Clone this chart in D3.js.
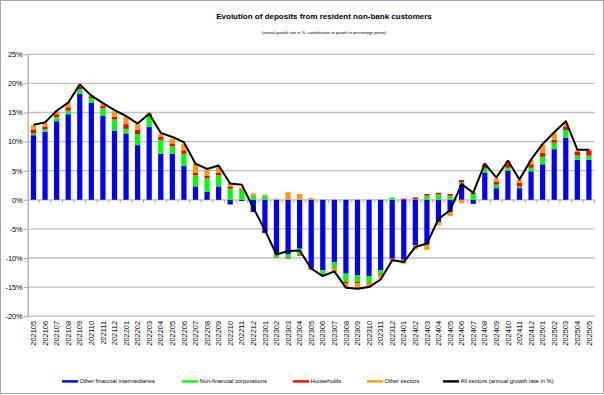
<!DOCTYPE html>
<html>
<head>
<meta charset="utf-8">
<script src="https://cdn.jsdelivr.net/npm/d3@7"></script>
<style>
  html, body { margin: 0; padding: 0; background: #fff; }
  svg { display: block; font-family: "Liberation Sans", Arial, sans-serif; }
</style>
</head>
<body>
<svg id="chart"></svg>
<script>
const months = [
  "202105", "202106", "202107", "202108", "202109", "202110", "202111", "202112",
  "202201", "202202", "202203", "202204", "202205", "202206", "202207", "202208",
  "202209", "202210", "202211", "202212", "202301", "202302", "202303", "202304",
  "202305", "202306", "202307", "202308", "202309", "202310", "202311", "202312",
  "202401", "202402", "202403", "202404", "202405", "202406", "202407", "202408",
  "202409", "202410", "202411", "202412", "202501", "202502", "202503", "202504",
  "202505"
];

// contributions to growth, percentage points
const otherFinancial = [
  11.1, 11.7, 13.5, 14.7, 18.2, 16.7, 14.4, 11.9, 11.4, 9.4, 12.5, 7.9, 7.9, 5.8,
  2.3, 1.4, 2.3, -0.8, -0.2, -2.1, -5.7, -9.3, -9.4, -8.4, -11.8, -12.1, -10.7,
  -12.7, -13.0, -13.1, -12.1, -10.1, -10.3, -7.8, -7.7, -3.8, -2.1, 2.6, -0.7,
  4.7, 2.0, 5.0, 2.0, 4.9, 6.1, 8.7, 10.7, 6.9, 6.9
];
const nonFinancialCorps = [
  0.3, 0.4, 0.7, 0.6, 0.8, 0.8, 1.3, 1.9, 0.8, 1.9, 1.9, 2.4, 1.3, 2.1,
  1.9, 2.3, 1.9, 1.9, 1.6, 0.6, 0.6, -0.5, -0.6, -1.0, 0.0, -0.7, -0.9,
  -1.4, -1.1, -1.1, -0.7, 0.4, 0.0, 0.1, 0.7, 0.9, 0.7, 0.4, 1.0,
  0.7, 0.6, 0.5, 0.3, 0.6, 1.3, 1.1, 1.3, 0.7, 0.7
];
const households = [
  0.6, 0.5, 0.5, 0.6, 0.4, 0.3, 0.4, 0.5, 0.8, 0.7, 0.4, 0.5, 0.5, 0.6,
  0.4, 0.4, 0.4, 0.3, 0.2, 0.1, 0.1, -0.1, -0.1, -0.2, -0.2, -0.2, -0.1,
  -0.2, -0.2, -0.2, -0.2, -0.1, 0.2, 0.3, 0.3, 0.3, 0.3, 0.4, 0.2,
  0.6, 0.5, 0.7, 0.6, 0.6, 0.7, 0.5, 0.6, 0.7, 0.9
];
const otherSectors = [
  0.8, 0.6, 0.5, 0.8, 0.3, 0.2, 0.4, 0.9, 1.3, 1.0, 0.2, 0.5, 0.8, 1.1,
  1.6, 1.1, 1.0, 0.7, 0.3, 0.4, 0.2, 0.2, 1.3, 1.0, 0.3, -0.1, -0.7,
  -0.7, -0.9, -0.5, -0.5, -0.3, -0.7, -0.7, -0.9, -0.6, -0.7, -0.6, 0.0,
  0.2, 0.5, 0.5, 0.5, 0.7, 1.4, 1.3, 0.7, 0.2, 0.2
];
// annual growth rate, %
const allSectors = [
  12.9, 13.3, 15.3, 16.7, 19.8, 17.9, 16.6, 15.4, 14.4, 13.1, 14.8, 11.5, 10.8, 9.9,
  6.2, 5.3, 5.9, 2.8, 2.6, -1.4, -5.2, -9.4, -8.8, -8.7, -11.8, -13.1, -12.3,
  -15.1, -15.3, -15.0, -13.7, -10.4, -10.7, -8.1, -7.5, -3.3, -1.8, 2.7, 1.2,
  6.2, 3.8, 6.7, 3.5, 6.9, 9.6, 11.6, 13.5, 8.6, 8.6
];
const yTicks = [25, 20, 15, 10, 5, 0, -5, -10, -15, -20];

const seriesKeys = ["ofi", "nfc", "hh", "other"];
const seriesNames = ["Other financial intermediaries", "Non-financial corporations", "Households", "Other sectors"];
const seriesColors = ["#0000ff", "#00ff00", "#ff0000", "#ff9900"];

const data = months.map((m, i) => ({
  month: m,
  ofi: otherFinancial[i],
  nfc: nonFinancialCorps[i],
  hh: households[i],
  other: otherSectors[i],
  total: allSectors[i]
}));

const W = 604, H = 395;
const plot = { left: 27.7, right: 594.7, top: 54.3, bottom: 316.2 };

const svg = d3.select("#chart").attr("width", W).attr("height", H);

svg.append("rect")
  .attr("x", 0.5).attr("y", 0.5)
  .attr("width", W - 1).attr("height", H - 2)
  .attr("fill", "#fff")
  .attr("stroke", "#a6a6a6");

svg.append("text")
  .attr("x", 324).attr("y", 19)
  .attr("text-anchor", "middle")
  .style("font-size", "8px")
  .style("font-weight", "bold")
  .text("Evolution of deposits from resident non-bank customers");

svg.append("text")
  .attr("x", 324).attr("y", 34)
  .attr("text-anchor", "middle")
  .style("font-size", "4px")
  .text("(annual growth rate in %, contributions to growth in percentage points)");

const x = d3.scaleBand()
  .domain(months)
  .range([plot.left, plot.right])
  .paddingInner(0.55)
  .paddingOuter(0.275);

const y = d3.scaleLinear()
  .domain([-20, 25])
  .range([plot.bottom, plot.top]);

// gridlines
svg.append("g")
  .selectAll("line")
  .data(yTicks)
  .enter().append("line")
  .attr("x1", plot.left).attr("x2", plot.right)
  .attr("y1", d => y(d)).attr("y2", d => y(d))
  .attr("stroke", "#c0c0c0")
  .attr("stroke-width", 1.3);

// y axis
const yAxis = svg.append("g")
  .attr("transform", `translate(${plot.left},0)`)
  .call(d3.axisLeft(y).tickValues(yTicks).tickSize(4).tickSizeOuter(0).tickFormat(d => d + "%"));
yAxis.select(".domain").attr("stroke", "#a6a6a6").attr("stroke-width", 1.2);
yAxis.selectAll(".tick line").attr("stroke", "#a6a6a6");
yAxis.selectAll("text")
  .attr("x", -5)
  .style("font-family", "'Liberation Sans', Arial, sans-serif")
  .style("font-size", "7.4px")
  .attr("fill", "#000");

// category axis on the zero line, ticks between categories
const step = x.step();
svg.append("g")
  .selectAll("line")
  .data(months)
  .enter().append("line")
  .attr("x1", d => x(d) - step * 0.275 + step)
  .attr("x2", d => x(d) - step * 0.275 + step)
  .attr("y1", y(0)).attr("y2", y(0) + 3)
  .attr("stroke", "#a6a6a6");

// stacked bars (negatives stack downward)
const stackedData = d3.stack()
  .keys(seriesKeys)
  .offset(d3.stackOffsetDiverging)(data);

svg.append("g")
  .selectAll("g")
  .data(stackedData)
  .enter().append("g")
  .attr("fill", (d, i) => seriesColors[i])
  .selectAll("rect")
  .data(d => d)
  .enter().append("rect")
  .attr("x", d => x(d.data.month))
  .attr("y", d => y(Math.max(d[0], d[1])))
  .attr("height", d => Math.abs(y(d[0]) - y(d[1])))
  .attr("width", x.bandwidth());

// total growth line
const line = d3.line()
  .x(d => x(d.month) + x.bandwidth() / 2)
  .y(d => y(d.total));

svg.append("path")
  .datum(data)
  .attr("fill", "none")
  .attr("stroke", "#000")
  .attr("stroke-width", 2)
  .attr("stroke-linejoin", "round")
  .attr("d", line);

// month labels below the plot
svg.append("g")
  .selectAll("text")
  .data(months)
  .enter().append("text")
  .attr("transform", d => `translate(${x(d) + x.bandwidth() / 2 + 2.6},321) rotate(-90)`)
  .attr("text-anchor", "end")
  .style("font-size", "7.4px")
  .text(d => d);

// legend
const legendItems = [
  { name: seriesNames[0], color: seriesColors[0], x: 62 },
  { name: seriesNames[1], color: seriesColors[1], x: 182 },
  { name: seriesNames[2], color: seriesColors[2], x: 293 },
  { name: seriesNames[3], color: seriesColors[3], x: 367 },
  { name: "All sectors (annual growth rate in %)", color: "#000", x: 443 }
];

const legend = svg.append("g");
legendItems.forEach(item => {
  legend.append("rect")
    .attr("x", item.x).attr("y", 380.2)
    .attr("width", 16).attr("height", 2.4)
    .attr("fill", item.color);
  legend.append("text")
    .attr("x", item.x + 17.5).attr("y", 383.2)
    .style("font-size", "5.8px")
    .text(item.name);
});
</script>
</body>
</html>
